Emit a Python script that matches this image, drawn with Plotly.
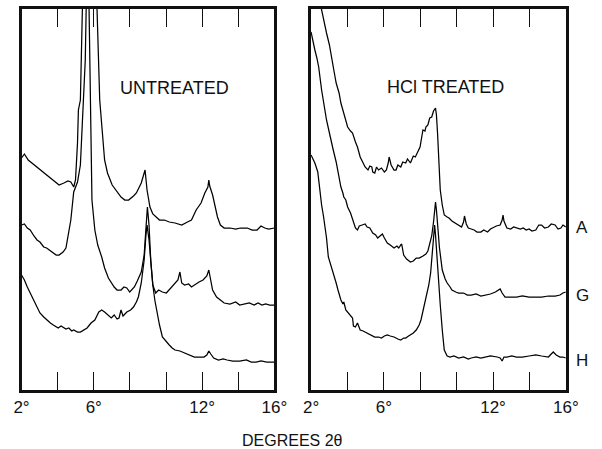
import plotly.graph_objects as go

# ---------------- data (2-theta in degrees, relative intensity) ----------------
tick_vals = [2, 4, 6, 8, 10, 12, 14, 16]
tick_text = ["2°", "", "6°", "", "", "12°", "", "16°"]

# UNTREATED panel
unt_top_deg = [2.00, 2.16, 2.37, 2.86, 3.23, 3.55, 3.92, 4.08, 4.35, 4.57, 4.73, 4.89, 4.99, 5.10, 5.15, 5.26, 5.37,
               5.45, 6.10, 6.17, 6.33, 6.60, 6.76, 7.02, 7.29, 7.51, 7.72, 7.93, 8.20, 8.36, 8.63, 8.79, 8.84,
               8.95, 9.11, 9.27, 9.43, 9.64, 9.91, 10.18, 10.50, 10.87, 11.19, 11.41, 11.67, 11.94, 12.15, 12.32,
               12.37, 12.42, 12.58, 12.74, 12.85, 13.01, 13.22, 13.54, 13.86, 14.12, 14.50, 14.77, 15.04, 15.26,
               15.47, 15.68, 16.00]
unt_top_int = [232, 236, 230, 223, 217, 213, 208, 205, 207, 209, 208, 203, 210, 247, 280, 290, 381,
               430, 430, 381, 290, 230, 217, 205, 198, 193, 190, 190, 194, 197, 207, 217, 220,
               200, 183, 176, 173, 170, 170, 168, 167, 165, 168, 170, 180, 187, 197, 203,
               210, 204, 195, 182, 173, 165, 162, 162, 161, 162, 162, 160, 160, 164,
               162, 161, 162]

unt_mid_deg = [2.00, 2.16, 2.32, 2.48, 2.69, 2.86, 3.02, 3.23, 3.39, 3.55, 3.76, 3.92, 4.08, 4.30, 4.46, 4.57,
               4.73, 4.89, 5.10, 5.26, 5.42, 5.53, 5.58, 5.65, 5.74, 5.79, 5.85, 5.90, 6.06, 6.22, 6.44, 6.60,
               6.81, 6.97, 7.13, 7.29, 7.51, 7.67, 7.83, 7.99, 8.09, 8.25, 8.41, 8.63, 8.79, 8.89, 8.97, 9.06,
               9.16, 9.27, 9.43, 9.59, 9.80, 10.02, 10.18, 10.34, 10.50, 10.66, 10.77, 10.87, 11.03, 11.25,
               11.41, 11.57, 11.83, 12.05, 12.26, 12.37, 12.48, 12.58, 12.80, 13.01, 13.22, 13.54, 13.86,
               14.08, 14.40, 14.61, 14.88, 15.10, 15.31, 15.52, 15.74, 16.00]
unt_mid_int = [165, 166, 162, 160, 154, 150, 148, 143, 142, 140, 137, 135, 135, 138, 142, 153,
               170, 198, 208, 225, 280, 330, 381, 420, 381, 330, 260, 190, 160, 145, 133, 122,
               112, 107, 103, 100, 100, 103, 102, 98, 100, 103, 109, 118, 135, 160, 183, 165,
               128, 105, 97, 100, 98, 97, 100, 104, 107, 110, 118, 107, 105, 106,
               103, 105, 108, 110, 114, 120, 108, 100, 93, 90, 87, 86, 88,
               85, 86, 87, 85, 87, 85, 86, 85, 85]

unt_bot_deg = [2.00, 2.16, 2.32, 2.53, 2.69, 2.86, 3.02, 3.23, 3.39, 3.60, 3.76, 3.92, 4.03, 4.19, 4.30, 4.46,
               4.62, 4.78, 4.89, 5.10, 5.26, 5.42, 5.63, 5.85, 6.06, 6.28, 6.44, 6.60, 6.76, 6.97, 7.13, 7.29,
               7.40, 7.51, 7.62, 7.83, 8.04, 8.20, 8.36, 8.47, 8.63, 8.79, 8.89, 8.95, 9.06, 9.16, 9.27, 9.38,
               9.54, 9.64, 9.80, 10.02, 10.18, 10.34, 10.50, 10.77, 11.03, 11.30, 11.57, 11.83, 12.10, 12.26,
               12.37, 12.48, 12.64, 12.90, 13.17, 13.38, 13.70, 14.08, 14.45, 14.72, 14.99, 15.26, 15.58,
               15.84, 16.00]
unt_bot_int = [115, 110, 103, 95, 90, 84, 77, 73, 70, 67, 65, 63, 62, 64, 63, 61,
               62, 59, 60, 58, 58, 60, 62, 67, 70, 78, 80, 78, 75, 72, 75, 71,
               72, 80, 74, 78, 80, 83, 88, 93, 107, 130, 155, 165, 150, 128, 105, 90,
               73, 65, 53, 48, 45, 42, 40, 39, 37, 35, 33, 33, 33, 35,
               39, 36, 32, 30, 31, 30, 29, 29, 30, 28, 28, 29, 28,
               28, 28]

# HCl TREATED panel
hcl_a_deg = [2.00, 2.58, 2.74, 2.85, 3.01, 3.11, 3.27, 3.38, 3.54, 3.64, 3.80, 3.91, 4.01, 4.17, 4.28, 4.44,
             4.55, 4.70, 4.86, 4.97, 5.13, 5.23, 5.34, 5.39, 5.50, 5.60, 5.71, 5.87, 6.03, 6.14, 6.24, 6.29,
             6.40, 6.45, 6.56, 6.67, 6.77, 6.93, 7.04, 7.20, 7.30, 7.46, 7.62, 7.73, 7.89, 7.99, 8.10, 8.15,
             8.26, 8.31, 8.42, 8.52, 8.63, 8.73, 8.84, 8.89, 8.95, 9.00, 9.05, 9.10, 9.21, 9.32, 9.48, 9.58,
             9.74, 9.90, 10.11, 10.27, 10.38, 10.43, 10.53, 10.64, 10.80, 10.96, 11.12, 11.33, 11.49, 11.70,
             11.86, 11.97, 12.18, 12.39, 12.50, 12.55, 12.60, 12.76, 12.97, 13.13, 13.29, 13.50, 13.66,
             13.82, 13.98, 14.14, 14.35, 14.51, 14.67, 14.83, 15.04, 15.20, 15.41, 15.57, 15.73, 15.84, 16.00]
hcl_a_int = [430, 378, 365, 357, 345, 333, 318, 307, 297, 287, 277, 268, 263, 259, 257, 248,
             243, 233, 227, 223, 220, 224, 223, 218, 217, 223, 220, 222, 218, 220, 227, 233,
             225, 223, 220, 220, 225, 223, 228, 227, 231, 227, 234, 233, 240, 243, 255, 260,
             259, 263, 265, 272, 273, 279, 282, 275, 257, 240, 223, 200, 185, 175, 173, 172,
             169, 167, 165, 163, 168, 174, 166, 162, 161, 160, 158, 158, 160, 158,
             161, 162, 164, 165, 170, 175, 169, 162, 161, 163, 162, 161, 162,
             160, 161, 159, 160, 165, 165, 162, 163, 166, 165, 161, 162, 165, 163]

hcl_g_deg = [2.00, 2.05, 2.21, 2.32, 2.42, 2.58, 2.74, 2.85, 3.01, 3.11, 3.22, 3.38, 3.48, 3.64, 3.75, 3.80,
             3.91, 4.01, 4.17, 4.28, 4.44, 4.55, 4.65, 4.81, 4.97, 5.08, 5.23, 5.39, 5.55, 5.66, 5.82, 5.92,
             6.03, 6.19, 6.35, 6.56, 6.72, 6.82, 6.93, 6.98, 7.09, 7.25, 7.46, 7.62, 7.78, 7.94, 8.15, 8.31,
             8.42, 8.52, 8.63, 8.73, 8.79, 8.84, 8.89, 8.95, 9.00, 9.05, 9.16, 9.21, 9.37, 9.48, 9.64, 9.74,
             9.95, 10.11, 10.38, 10.59, 10.80, 11.07, 11.33, 11.60, 11.86, 12.13, 12.29, 12.39, 12.50,
             12.66, 12.92, 13.29, 13.61, 13.98, 14.35, 14.67, 15.04, 15.41, 15.68, 15.84, 16.00]
hcl_g_int = [358, 353, 340, 332, 323, 300, 280, 270, 257, 250, 240, 228, 217, 203, 197, 193,
             190, 183, 177, 170, 162, 160, 164, 165, 166, 163, 162, 157, 155, 152, 154, 156,
             152, 147, 145, 142, 144, 142, 145, 146, 135, 131, 128, 129, 132, 132, 134, 136,
             139, 145, 154, 168, 180, 188, 180, 170, 155, 143, 128, 120, 111, 107, 103, 100,
             98, 97, 97, 95, 95, 96, 94, 95, 96, 98, 100, 101, 97,
             93, 93, 93, 94, 93, 93, 93, 94, 94, 95, 97, 98]

hcl_h_deg = [2.00, 2.05, 2.21, 2.37, 2.48, 2.58, 2.69, 2.85, 2.95, 3.11, 3.22, 3.38, 3.48, 3.64, 3.75, 3.80,
             3.91, 4.01, 4.17, 4.28, 4.33, 4.44, 4.55, 4.70, 4.86, 5.08, 5.29, 5.50, 5.71, 5.87, 6.03, 6.19,
             6.35, 6.56, 6.77, 6.93, 7.09, 7.20, 7.36, 7.46, 7.62, 7.78, 7.94, 8.04, 8.20, 8.31, 8.47, 8.57,
             8.68, 8.73, 8.79, 8.84, 8.89, 8.95, 9.05, 9.10, 9.21, 9.32, 9.48, 9.64, 9.85, 10.11, 10.38,
             10.64, 10.80, 11.07, 11.33, 11.60, 11.86, 12.23, 12.39, 12.50, 12.60, 12.76, 13.03, 13.29,
             13.61, 13.98, 14.35, 14.67, 15.04, 15.20, 15.31, 15.47, 15.68, 15.84, 16.00]
hcl_h_int = [235, 233, 227, 218, 200, 185, 173, 152, 133, 124, 117, 107, 100, 90, 86, 88,
             80, 78, 75, 72, 64, 63, 67, 60, 59, 57, 55, 53, 53, 52, 54, 55,
             54, 53, 51, 50, 52, 52, 54, 55, 57, 60, 65, 70, 82, 90, 105, 117,
             140, 158, 165, 155, 140, 122, 100, 85, 60, 40, 34, 33, 34, 32, 33,
             31, 32, 33, 32, 33, 34, 33, 32, 29, 33, 33, 34, 33,
             33, 34, 35, 34, 33, 36, 38, 35, 33, 33, 32]

panel_titles = ["UNTREATED", "HCl TREATED"]
sample_labels = ["A", "G", "H"]
x_title = "DEGREES 2θ"

# ---------------- figure ----------------
W, H = 602, 449
line_style = dict(color="#000000", width=1.25)

fig = go.Figure()
for xs, ys in [(unt_top_deg, unt_top_int), (unt_mid_deg, unt_mid_int), (unt_bot_deg, unt_bot_int)]:
    fig.add_trace(go.Scatter(x=xs, y=ys, mode="lines", line=line_style, xaxis="x", yaxis="y",
                             showlegend=False, hoverinfo="skip"))
for xs, ys in [(hcl_a_deg, hcl_a_int), (hcl_g_deg, hcl_g_int), (hcl_h_deg, hcl_h_int)]:
    fig.add_trace(go.Scatter(x=xs, y=ys, mode="lines", line=line_style, xaxis="x2", yaxis="y2",
                             showlegend=False, hoverinfo="skip"))

font_family = "Liberation Sans, Arial, sans-serif"
y_dom = [(H - 390) / H, (H - 9) / H]

xcommon = dict(range=[2, 16], tickmode="array", tickvals=tick_vals, ticktext=tick_text,
               ticks="inside", ticklen=18, tickwidth=1.4, tickcolor="#111",
               showline=True, linewidth=3, linecolor="#111", mirror="ticks",
               showgrid=False, zeroline=False,
               tickfont=dict(family=font_family, size=17, color="#111"))
ycommon = dict(range=[0, 381], showline=True, linewidth=2.5, linecolor="#111", mirror=True,
               showgrid=False, zeroline=False, showticklabels=False, ticks="")

fig.update_layout(
    width=W, height=H,
    margin=dict(l=0, r=0, t=0, b=0),
    paper_bgcolor="white", plot_bgcolor="white",
    xaxis=dict(domain=[14 / W, 276 / W], anchor="y", **xcommon),
    yaxis=dict(domain=y_dom, anchor="x", **ycommon),
    xaxis2=dict(domain=[314 / W, 578 / W], anchor="y2", **xcommon),
    yaxis2=dict(domain=y_dom, anchor="x2", **ycommon),
)

ann_font = dict(family=font_family, size=18, color="#111")
common_ann = dict(xref="paper", yref="paper", showarrow=False, xanchor="center", yanchor="middle")
fig.add_annotation(text=panel_titles[0], x=173 / W, y=(H - 88) / H, font=ann_font, **common_ann)
fig.add_annotation(text=panel_titles[1], x=453 / W, y=(H - 87) / H, font=ann_font, **common_ann)
for lab, py in zip(sample_labels, [227, 295, 360]):
    fig.add_annotation(text=lab, x=595 / W, y=(H - py) / H,
                       font=dict(family=font_family, size=17, color="#111"), **common_ann)
fig.add_annotation(text=x_title, x=295 / W, y=(H - 440) / H,
                   font=dict(family=font_family, size=16, color="#111"), **common_ann)

fig.write_html("out.html")
